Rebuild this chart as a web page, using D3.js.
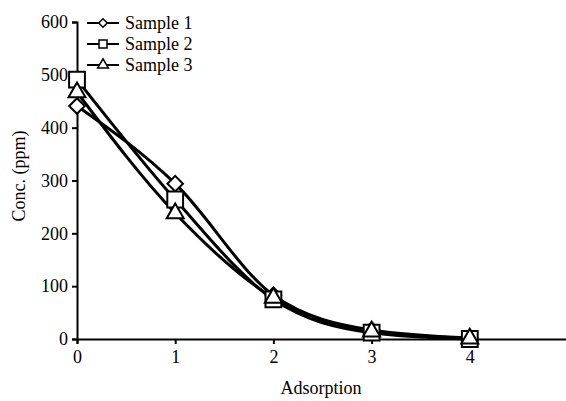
<!DOCTYPE html>
<html>
<head>
<meta charset="utf-8">
<script src="https://cdn.jsdelivr.net/npm/d3@7"></script>
<style>
body { margin: 0; background: #fff; }
</style>
</head>
<body>
<div id="chart"></div>
<script>
var xValues = [0, 1, 2, 3, 4];
var sample1 = [441, 294, 83, 17, 2];
var sample2 = [491, 264, 75, 12, 0];
var sample3 = [467, 238, 78, 14, 1];
var seriesNames = ["Sample 1", "Sample 2", "Sample 3"];
var symbols = [d3.symbolSquare, d3.symbolSquare, d3.symbolTriangle];
var yTicks = [0, 100, 200, 300, 400, 500, 600];
var xTicks = [0, 1, 2, 3, 4, 5];
var xLabelTicks = [0, 1, 2, 3, 4];

var FONT = "Liberation Serif, serif";

function main() {
    var W = 566, H = 401;
    var x = d3.scaleLinear().domain([0, 5]).range([77, 568]);
    var y = d3.scaleLinear().domain([0, 600]).range([339, 22]);

    var svg = d3.select("#chart").append("svg")
        .attr("width", W).attr("height", H)
        .attr("font-family", FONT);

    var ya = svg.append("g").attr("transform", "translate(77,0)")
        .call(d3.axisLeft(y).tickValues(yTicks).tickFormat(d3.format("d")).tickSize(5).tickPadding(4));
    var xa = svg.append("g").attr("transform", "translate(0,339)")
        .call(d3.axisBottom(x).tickValues(xTicks).tickSize(5).tickPadding(6)
            .tickFormat(function(d) { return xLabelTicks.indexOf(d) >= 0 ? d3.format("d")(d) : ""; }));
    [ya, xa].forEach(function(a) {
        a.attr("font-family", FONT).attr("font-size", 18);
        a.select(".domain").attr("stroke-width", 2);
        a.selectAll(".tick line").attr("stroke-width", 2);
        a.selectAll("text").attr("fill", "#000").attr("font-family", FONT).attr("font-size", 18);
    });

    svg.append("text").attr("x", 321).attr("y", 394)
        .attr("text-anchor", "middle").attr("font-size", 18).attr("font-family", FONT)
        .text("Adsorption");
    svg.append("text").attr("transform", "translate(25,176) rotate(-90)")
        .attr("text-anchor", "middle").attr("font-size", 18).attr("font-family", FONT)
        .text("Conc. (ppm)");

    var all = [sample1, sample2, sample3];
    var line = d3.line()
        .x(function(d, i) { return x(xValues[i]); })
        .y(function(d) { return y(d); })
        .curve(d3.curveMonotoneX);

    all.forEach(function(s) {
        svg.append("path").attr("d", line(s))
            .attr("fill", "none").attr("stroke", "#000").attr("stroke-width", 3);
    });
    // diamond = square turned 45 degrees
    var sizes = [120, 250, 125];
    var rot = [45, 0, 0];
    all.forEach(function(s, k) {
        svg.append("g").selectAll("path").data(s).enter().append("path")
            .attr("d", d3.symbol().type(symbols[k]).size(sizes[k]))
            .attr("transform", function(d, i) {
                return "translate(" + x(xValues[i]) + "," + y(d) + ") rotate(" + rot[k] + ")";
            })
            .attr("fill", "#fff").attr("stroke", "#000").attr("stroke-width", 2);
    });

    var lg = svg.append("g");
    var lgSizes = [36, 64, 50];
    seriesNames.forEach(function(n, k) {
        var yy = 23 + k * 21;
        lg.append("line").attr("x1", 87).attr("x2", 119).attr("y1", yy).attr("y2", yy)
            .attr("stroke", "#000").attr("stroke-width", 2);
        lg.append("path").attr("d", d3.symbol().type(symbols[k]).size(lgSizes[k]))
            .attr("transform", "translate(103," + yy + ") rotate(" + rot[k] + ")")
            .attr("fill", "#fff").attr("stroke", "#000").attr("stroke-width", 1.5);
        lg.append("text").attr("x", 125).attr("y", yy + 6)
            .attr("font-size", 18).attr("font-family", FONT).text(n);
    });
}

main();
</script>
</body>
</html>
